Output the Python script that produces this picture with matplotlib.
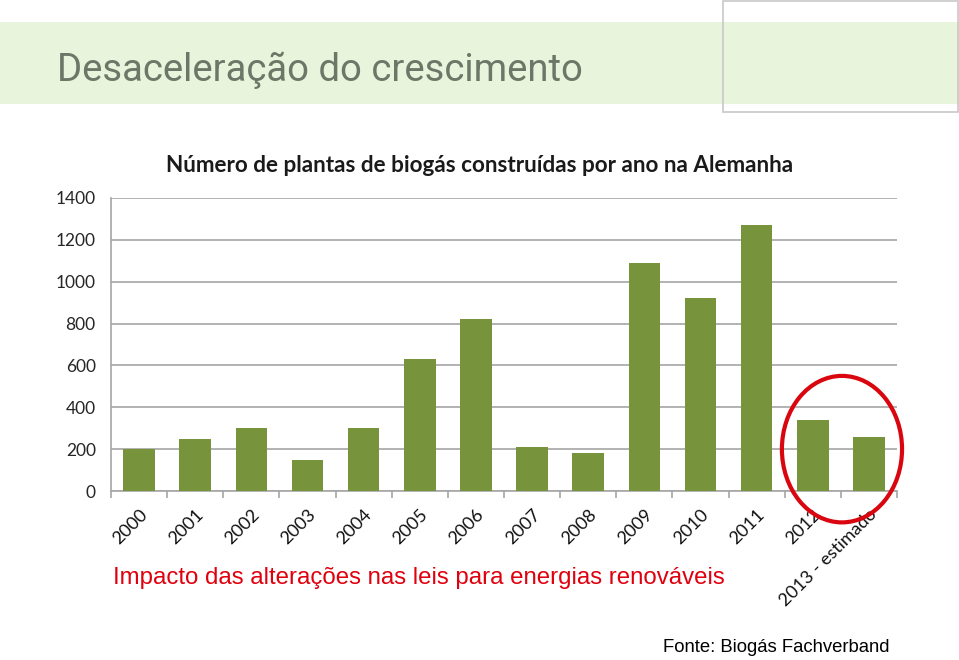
import numpy as np
import matplotlib.pyplot as plt
from matplotlib.patches import Rectangle, Ellipse

# Plantas de biogás construídas por ano na Alemanha
anos = ['2000', '2001', '2002', '2003', '2004', '2005', '2006', '2007',
        '2008', '2009', '2010', '2011', '2012', '2013 - estimado']
plantas = [200, 250, 300, 150, 300, 630, 820, 210, 180, 1090, 920, 1270, 340, 260]
yticks = [0, 200, 400, 600, 800, 1000, 1200, 1400]

fig = plt.figure(figsize=(9.59, 6.6), dpi=100)

# faixa verde do titulo do slide
fig.patches.append(Rectangle((0, 1 - 104/660), 1, 82/660, transform=fig.transFigure,
                             facecolor='#e8f4dc', edgecolor='none', zorder=0))
# moldura no canto superior direito
fig.patches.append(Rectangle((723/959, 1 - 112/660), 235/959, 111/660, transform=fig.transFigure,
                             facecolor='none', edgecolor='#c8c8c8', linewidth=1.2, zorder=1))
fig.text(57/959, 1 - 70/660, 'Desaceleração do crescimento', fontsize=27.5,
         family='Roboto', color='#6e7668', va='center', ha='left')

ax = fig.add_axes([111/959, 1 - 491/660, 786/959, 293/660])
x = np.arange(len(anos))
ax.bar(x, plantas, width=0.56, color='#77933c', zorder=3)
ax.set_xlim(-0.5, len(anos) - 0.5)
ax.set_ylim(0, 1400)
ax.set_yticks(yticks)
ax.yaxis.grid(True, color='#a6a6a6', linewidth=1.2, zorder=0)
for s in ['top', 'right']:
    ax.spines[s].set_visible(False)
ax.spines['left'].set_color('#a6a6a6')
ax.spines['bottom'].set_color('#a6a6a6')
ax.spines['left'].set_linewidth(1.2)
ax.spines['bottom'].set_linewidth(1.2)
ax.tick_params(axis='y', length=0, pad=11, labelsize=12.5, labelcolor='#262626')
ax.set_yticklabels([str(v) for v in yticks], family='Lato')
ax.set_xticks(np.arange(-0.5, len(anos), 1.0))
ax.set_xticklabels([])
ax.tick_params(axis='x', length=5, color='#a6a6a6', width=1.2)
ax.set_xticks(x, minor=True)
ax.set_xticklabels(anos, minor=True, rotation=45, ha='right', va='top',
                   rotation_mode='anchor', fontsize=13, family='Lato', color='#111111')
ax.tick_params(axis='x', which='minor', length=0, pad=11)

fig.text(480/959, 1 - 166/660, 'Número de plantas de biogás construídas por ano na Alemanha',
         fontsize=16.2, fontweight='bold', family='Lato', color='#1a1a1a',
         ha='center', va='center')

ax.add_patch(Ellipse((12.52, 200), 2.14, 700, facecolor='none', edgecolor='#d9060f',
                     linewidth=3, clip_on=False, zorder=5))

fig.text(113/959, 1 - 578/660, 'Impacto das alterações nas leis para energias renováveis',
         fontsize=17.3, family='Liberation Sans', color='#e0000e', va='center', ha='left')
fig.text(663/959, 1 - 648/660, 'Fonte: Biogás Fachverband', fontsize=13.3,
         family='Liberation Sans', color='#000000', va='center', ha='left')

fig.savefig('out.png', dpi=100)
